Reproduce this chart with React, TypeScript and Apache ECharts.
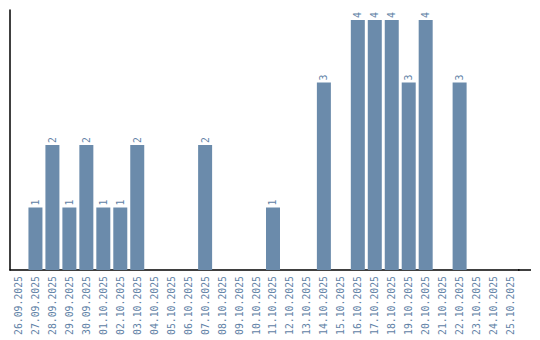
import React, { useEffect, useRef } from "react";
import * as echarts from "echarts";

const categories = [
  "26.09.2025", "27.09.2025", "28.09.2025", "29.09.2025", "30.09.2025",
  "01.10.2025", "02.10.2025", "03.10.2025", "04.10.2025", "05.10.2025",
  "06.10.2025", "07.10.2025", "08.10.2025", "09.10.2025", "10.10.2025",
  "11.10.2025", "12.10.2025", "13.10.2025", "14.10.2025", "15.10.2025",
  "16.10.2025", "17.10.2025", "18.10.2025", "19.10.2025", "20.10.2025",
  "21.10.2025", "22.10.2025", "23.10.2025", "24.10.2025", "25.10.2025",
];
const values = [
  0, 1, 2, 1, 2, 1, 1, 2, 0, 0,
  0, 2, 0, 0, 0, 1, 0, 0, 3, 0,
  4, 4, 4, 3, 4, 0, 3, 0, 0, 0,
];

export default function App() {
  const ref = useRef<HTMLDivElement>(null);
  useEffect(() => {
    if (!ref.current) return;
    const chart = echarts.init(ref.current, null, { renderer: "svg" });
    chart.setOption({
      animation: false,
      grid: { left: 10, right: 21, top: 10, bottom: 70 },
      graphic: [
        {
          type: "line",
          shape: { x1: 518, y1: 270, x2: 531, y2: 270 },
          style: { stroke: "#000", lineWidth: 1.5 },
          silent: true,
        },
      ],
      xAxis: {
        type: "category",
        data: categories,
        axisLine: { show: true, lineStyle: { color: "#000", width: 1.5 } },
        axisTick: { show: false },
        axisLabel: {
          rotate: 90,
          interval: 0,
          margin: 6,
          color: "#5f82a6",
          fontFamily: "DejaVu Sans Mono",
          fontSize: 9.8,
        },
      },
      yAxis: {
        type: "value",
        min: 0,
        max: 4.16,
        axisLine: { show: true, lineStyle: { color: "#000", width: 1.5 } },
        axisTick: { show: false },
        axisLabel: { show: false },
        splitLine: { show: false },
      },
      series: [
        {
          type: "bar",
          data: values.map((v) => (v === 0 ? null : v)),
          barWidth: 14,
          itemStyle: { color: "#6b8bab" },
          label: {
            show: true,
            position: "top",
            rotate: 90,
            align: "left",
            verticalAlign: "middle",
            distance: 2,
            color: "#5f82a6",
            fontFamily: "DejaVu Sans Mono",
            fontSize: 9.8,
          },
        },
      ],
    });
    return () => chart.dispose();
  }, []);
  return (
    <div
      ref={ref}
      style={{ position: "absolute", left: 0, top: 0, width: 540, height: 340 }}
    />
  );
}
